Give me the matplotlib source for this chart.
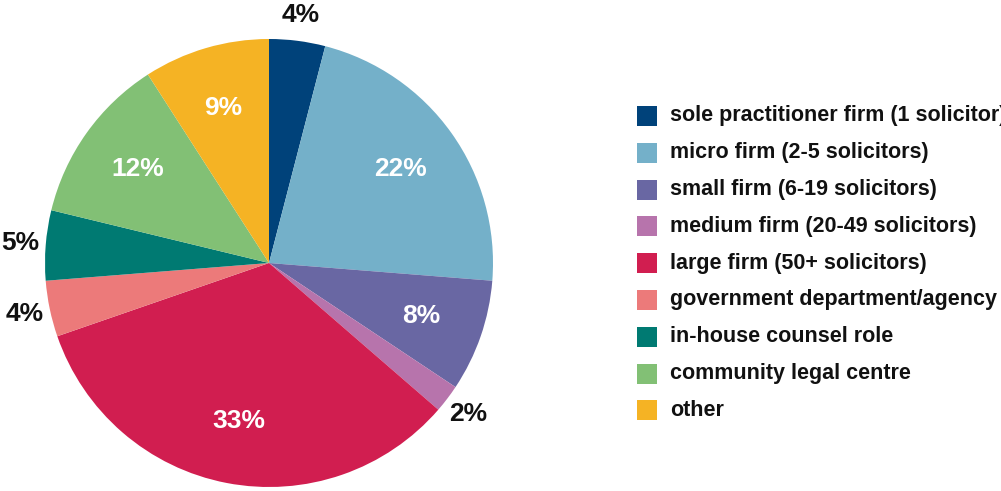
import matplotlib
matplotlib.use("Agg")
import matplotlib.pyplot as plt
from matplotlib.patches import Rectangle
import numpy as np

plt.rcParams["font.family"] = ["Liberation Sans", "DejaVu Sans"]

# workplace breakdown (percent)
categories = [
    "sole practitioner firm (1 solicitor)",
    "micro firm (2-5 solicitors)",
    "small firm (6-19 solicitors)",
    "medium firm (20-49 solicitors)",
    "large firm (50+ solicitors)",
    "government department/agency",
    "in-house counsel role",
    "community legal centre",
    "other",
]
shares = [4, 22, 8, 2, 33, 4, 5, 12, 9]
colors = ["#00427A", "#74B0C9", "#6967A3", "#B774AC", "#D11E50",
          "#EC7A7A", "#007A72", "#82C075", "#F5B324"]
# small slices get their label outside the pie in black
outside = [True, False, False, True, False, True, True, False, False]

W, H = 1001, 491
fig = plt.figure(figsize=(W / 100, H / 100), dpi=100)

# pie centred at (269, 263) px, radius 224 px
cx, cy, r = 269, 263, 224
ax = fig.add_axes([(cx - r) / W, (H - cy - r) / H, 2 * r / W, 2 * r / H])
wedges, _ = ax.pie(shares, colors=colors, startangle=90, counterclock=False,
                   wedgeprops=dict(linewidth=0))
ax.set_xlim(-1, 1)
ax.set_ylim(-1, 1)
ax.axis("off")

for w, val, out in zip(wedges, shares, outside):
    mid = np.deg2rad((w.theta1 + w.theta2) / 2)
    dist = 1.115 if out else 0.72
    ax.text(dist * np.cos(mid), dist * np.sin(mid), f"{val}%",
            ha="center", va="center", fontsize=19, fontweight="bold",
            color="#111111" if out else "white", clip_on=False)

# legend: coloured squares with labels
y0, step = 116, 36.8
for i, (lab, col) in enumerate(zip(categories, colors)):
    y = y0 + i * step
    fig.add_artist(Rectangle((637 / W, (H - y - 10) / H), 20 / W, 20 / H,
                             transform=fig.transFigure, color=col, lw=0))
    fig.text(670 / W, (H - y) / H, lab, ha="left", va="center",
             fontsize=15.5, fontweight="bold", color="#111111")

fig.savefig("out.png", dpi=100)
